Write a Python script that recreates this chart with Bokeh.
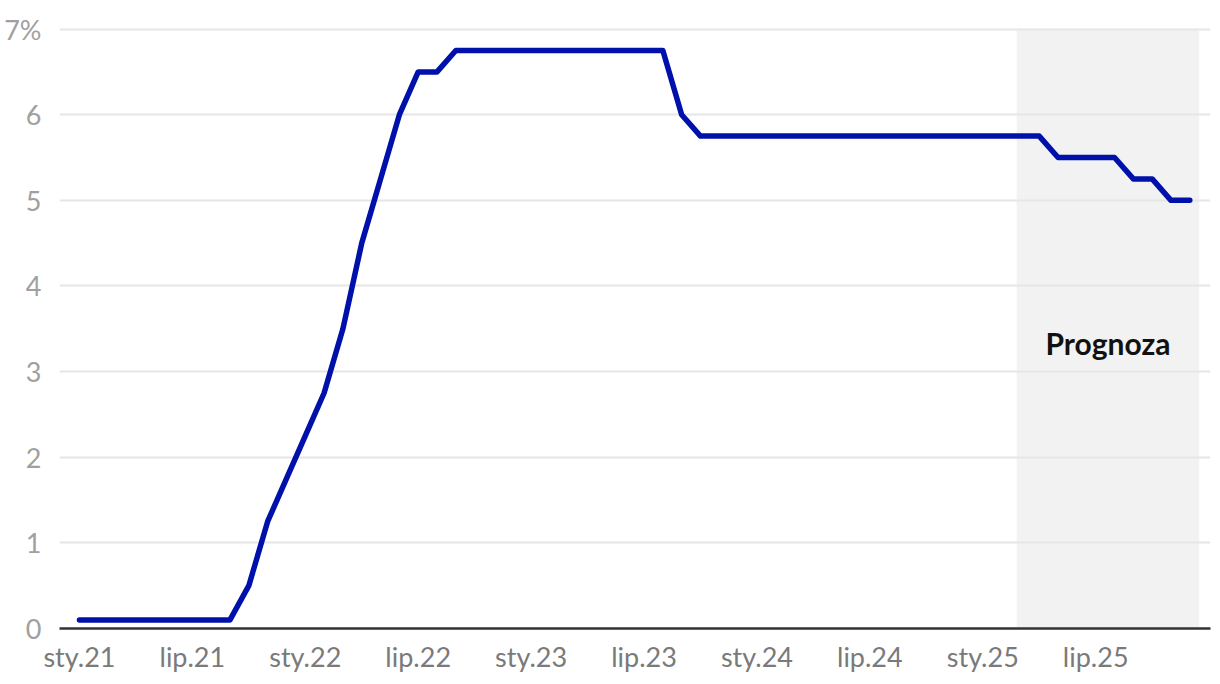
from bokeh.plotting import figure
from bokeh.models import FixedTicker, BoxAnnotation, Label, Range1d
from bokeh.embed import file_html
from bokeh.resources import INLINE

# ---- data ----
months = [f"{y}-{m:02d}" for y in range(2021, 2026) for m in range(1, 13)]
rates = [
    0.1, 0.1, 0.1, 0.1, 0.1, 0.1, 0.1, 0.1, 0.1, 0.5, 1.25, 1.75,      # 2021
    2.25, 2.75, 3.5, 4.5, 5.25, 6.0, 6.5, 6.5, 6.75, 6.75, 6.75, 6.75,  # 2022
    6.75, 6.75, 6.75, 6.75, 6.75, 6.75, 6.75, 6.75, 6.0, 5.75, 5.75, 5.75,  # 2023
    5.75, 5.75, 5.75, 5.75, 5.75, 5.75, 5.75, 5.75, 5.75, 5.75, 5.75, 5.75,  # 2024
    5.75, 5.75, 5.75, 5.75, 5.5, 5.5, 5.5, 5.5, 5.25, 5.25, 5.0, 5.0,  # 2025
]
tick_months = ["2021-01", "2021-07", "2022-01", "2022-07", "2023-01",
               "2023-07", "2024-01", "2024-07", "2025-01", "2025-07"]
tick_labels = ["sty.21", "lip.21", "sty.22", "lip.22", "sty.23",
               "lip.23", "sty.24", "lip.24", "sty.25", "lip.25"]
y_ticks = [0, 1, 2, 3, 4, 5, 6, 7]
y_labels = ["0", "1", "2", "3", "4", "5", "6", "7%"]
forecast_start = 49.8   # month index (late Feb 2025)
forecast_end = 59.5
forecast_top = 7
forecast_label = "Prognoza"

x = list(range(len(months)))
tick_pos = [months.index(m) for m in tick_months]

FONT = "Lato"

p = figure(width=1212, height=676, output_backend="svg", toolbar_location=None,
           x_range=Range1d(-1.06, 60.1), y_range=Range1d(0, 7.1),
           min_border_left=59, min_border_right=2, min_border_top=20,
           min_border_bottom=48)
p.outline_line_color = None
p.background_fill_color = "white"

shade = BoxAnnotation(left=forecast_start, right=forecast_end, top=forecast_top,
                      fill_color="#f2f2f2", fill_alpha=1.0,
                      line_color=None, level="image")
p.add_layout(shade)

p.line(x, rates, line_color="#0010aa", line_width=5.5,
       line_join="round", line_cap="round")

p.add_layout(Label(x=(forecast_start + forecast_end) / 2, y=3.33,
                   text=forecast_label, text_align="center",
                   text_baseline="middle", text_font=FONT,
                   text_font_size="30px", text_font_style="bold",
                   text_color="#111111"))

# grids
p.xgrid.grid_line_color = None
p.ygrid.ticker = FixedTicker(ticks=y_ticks)
p.ygrid.grid_line_color = "#e6e6e6"
p.ygrid.grid_line_width = 2

# x axis
p.xaxis.ticker = FixedTicker(ticks=tick_pos)
p.xaxis.major_label_overrides = {pos: lab for pos, lab in zip(tick_pos, tick_labels)}
p.xaxis.axis_line_color = "#333333"
p.xaxis.axis_line_width = 2.5
p.xaxis.major_tick_line_color = None
p.xaxis.minor_tick_line_color = None
p.xaxis.major_label_text_font = FONT
p.xaxis.major_label_text_font_size = "27px"
p.xaxis.major_label_text_color = "#7a7a7a"
p.xaxis.major_label_standoff = 5

# y axis
p.yaxis.ticker = FixedTicker(ticks=y_ticks)
p.yaxis.major_label_overrides = {t: lab for t, lab in zip(y_ticks, y_labels)}
p.yaxis.axis_line_color = None
p.yaxis.major_tick_line_color = None
p.yaxis.minor_tick_line_color = None
p.yaxis.major_label_text_font = FONT
p.yaxis.major_label_text_font_size = "27px"
p.yaxis.major_label_text_color = "#a0a0a0"
p.yaxis.major_label_standoff = 12

open("out.html", "w").write(file_html(p, INLINE))
